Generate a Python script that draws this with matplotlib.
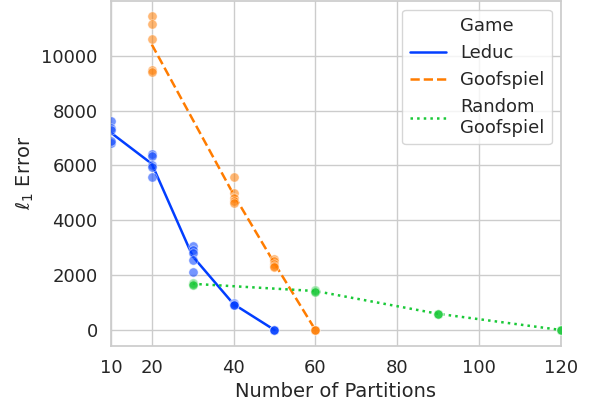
import numpy as np
import pandas as pd
import matplotlib
matplotlib.use('Agg')
import matplotlib.pyplot as plt
import seaborn as sns
from matplotlib.lines import Line2D

sns.set_theme(style='whitegrid')

games = ['Leduc', 'Goofspiel', 'Random Goofspiel']
legend_labels = ['Leduc', 'Goofspiel', 'Random\nGoofspiel']
colors = ['#023eff', '#ff7c00', '#1ac938']
styles = ['-', '--', ':']

# raw runs
leduc_x = [10, 10, 10, 10, 10, 20, 20, 20, 20, 20, 30, 30, 30, 30, 30, 40, 40, 40, 40, 50, 50, 50]
leduc_y = [7620, 7350, 7300, 6800, 6900, 6420, 6350, 6000, 5950, 5580,
           3050, 2900, 2820, 2560, 2100, 1000, 950, 920, 900, 0, 0, 0]
goof_x = [20, 20, 20, 20, 20, 40, 40, 40, 40, 40, 50, 50, 50, 50, 50, 60, 60, 60]
goof_y = [11430, 11150, 10620, 9465, 9393, 5580, 5000, 4800, 4700, 4620,
          2580, 2500, 2420, 2350, 2300, 0, 0, 0]
rand_x = [30, 30, 30, 60, 60, 60, 90, 90, 90, 120, 120, 120]
rand_y = [1720, 1680, 1650, 1440, 1420, 1400, 600, 590, 580, 0, 0, 0]

df = pd.concat([
    pd.DataFrame({'x': leduc_x, 'y': leduc_y, 'game': 'Leduc'}),
    pd.DataFrame({'x': goof_x, 'y': goof_y, 'game': 'Goofspiel'}),
    pd.DataFrame({'x': rand_x, 'y': rand_y, 'game': 'Random Goofspiel'}),
])

fig = plt.figure(figsize=(5.96, 4.11), dpi=100)
ax = fig.add_axes([0.186, 0.159, 0.755, 0.839])

for g, c, ls in zip(games, colors, styles):
    d = df[df.game == g]
    ax.scatter(d.x, d.y, s=45, color=c, alpha=0.55, edgecolor='white', linewidth=0.6, zorder=3)
    m = d.groupby('x').y.mean()
    ax.plot(m.index, m.values, color=c, ls=ls, lw=1.8, zorder=2)

ax.set_xlim(10, 120)
ax.set_xticks([10, 20, 40, 60, 80, 100, 120])
ax.set_yticks([0, 2000, 4000, 6000, 8000, 10000])
ax.tick_params(labelsize=13)
ax.set_xlabel('Number of Partitions', fontsize=14)
ax.set_ylabel(r'$\ell_1$ Error', fontsize=14)
for s in ax.spines.values():
    s.set_color('#cccccc')

handles = [Line2D([], [], color='none')]
handles += [Line2D([], [], color=c, ls=ls, lw=1.8) for c, ls in zip(colors, styles)]
ax.legend(handles, ['Game'] + legend_labels, loc='upper right', fontsize=13,
          handlelength=2.0, frameon=True)

fig.savefig('out.png', dpi=100)
